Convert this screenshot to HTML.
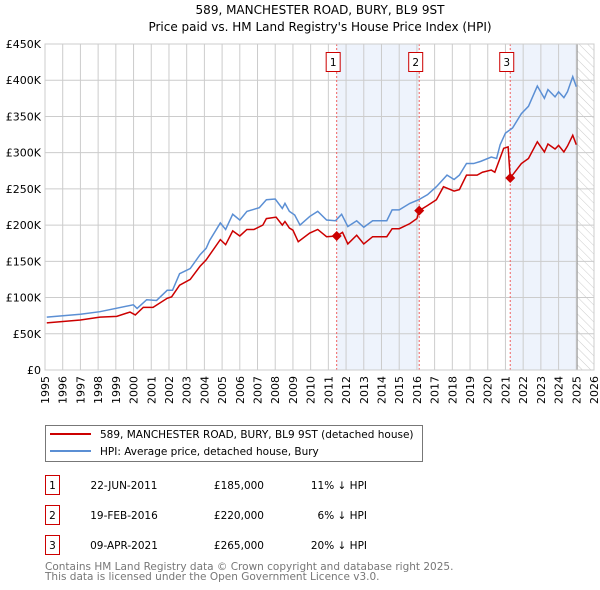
<!DOCTYPE html>
<html><head><meta charset="utf-8"><style>
body{margin:0;background:#fff;}
svg{display:block;font-family:"DejaVu Sans","Liberation Sans",sans-serif;}
</style></head><body>
<svg id="c" width="600" height="590" viewBox="0 0 600 590">
<text x="320" y="14" text-anchor="middle" font-size="12">589, MANCHESTER ROAD, BURY, BL9 9ST</text>
<text x="320" y="31" text-anchor="middle" font-size="12">Price paid vs. HM Land Registry's House Price Index (HPI)</text>
<g id="plot"></g>
<g>
<rect x="45.5" y="425.5" width="377" height="36" fill="#fff" stroke="#777"/>
<line x1="50" y1="434" x2="91" y2="434" stroke="#cc0000" stroke-width="2"/>
<text x="100" y="438" font-size="10.5">589, MANCHESTER ROAD, BURY, BL9 9ST (detached house)</text>
<line x1="50" y1="451" x2="91" y2="451" stroke="#5b8fd4" stroke-width="2"/>
<text x="100" y="455" font-size="10.5">HPI: Average price, detached house, Bury</text>
</g>
<g font-size="10.5">
<rect x="45.5" y="475.5" width="14" height="19" fill="none" stroke="#cc0000"/><text x="52.5" y="489" text-anchor="middle">1</text>
<text x="124" y="489" text-anchor="middle">22-JUN-2011</text><text x="264" y="489" text-anchor="end">£185,000</text><text x="367" y="489" text-anchor="end">11% ↓ HPI</text>
<rect x="45.5" y="505.5" width="14" height="19" fill="none" stroke="#cc0000"/><text x="52.5" y="519" text-anchor="middle">2</text>
<text x="124" y="519" text-anchor="middle">19-FEB-2016</text><text x="264" y="519" text-anchor="end">£220,000</text><text x="367" y="519" text-anchor="end">6% ↓ HPI</text>
<rect x="45.5" y="535.5" width="14" height="19" fill="none" stroke="#cc0000"/><text x="52.5" y="549" text-anchor="middle">3</text>
<text x="124" y="549" text-anchor="middle">09-APR-2021</text><text x="264" y="549" text-anchor="end">£265,000</text><text x="367" y="549" text-anchor="end">20% ↓ HPI</text>
</g>
<text x="45" y="570" font-size="10.5" fill="#777">Contains HM Land Registry data © Crown copyright and database right 2025.</text>
<text x="45" y="580" font-size="10.5" fill="#777">This data is licensed under the Open Government Licence v3.0.</text>
</svg>
<script>
const hpiYears=[1995.1,1997,1998.1,1999.99,2000.2,2000.74,2001.3,2001.9,2002.2,2002.6,2003.2,2003.75,2004.1,2004.3,2004.9,2005.2,2005.6,2006.0,2006.4,2007.1,2007.5,2008.0,2008.4,2008.55,2008.8,2009.1,2009.4,2009.95,2010.4,2010.9,2011.4,2011.75,2012.1,2012.6,2013.0,2013.5,2014.3,2014.6,2015.0,2015.6,2016.1,2016.6,2017.1,2017.7,2018.1,2018.4,2018.8,2019.2,2019.6,2020.2,2020.5,2020.7,2021.0,2021.4,2021.9,2022.3,2022.8,2023.2,2023.4,2023.8,2024.0,2024.3,2024.5,2024.8,2025.0];
const hpiValues=[73,77,80.5,90,85,97,96,110,110,133,140,159,168,179,203,194,215,207,219,224,235,236,223,230,219,214,200,212,219,207,206,215,198,206,197,206,206,221,221,230,235,242,253,269,263,269,285,285,288,294,292,311,327,334,354,364,392,375,387,377,384,376,384,405,391];
const ppYears=[1995.1,1997,1998.1,1999.05,1999.8,2000.1,2000.55,2001.1,2001.9,2002.15,2002.6,2003.2,2003.75,2004.1,2004.9,2005.2,2005.6,2006.0,2006.4,2006.8,2007.3,2007.5,2008.05,2008.4,2008.55,2008.8,2009.0,2009.3,2009.95,2010.4,2010.9,2011.47,2011.8,2012.1,2012.6,2013.0,2013.5,2014.3,2014.6,2015.0,2015.6,2016.0,2016.13,2016.6,2017.1,2017.5,2018.1,2018.4,2018.8,2019.4,2019.7,2020.2,2020.4,2020.9,2021.15,2021.27,2021.9,2022.3,2022.8,2023.2,2023.4,2023.8,2024.0,2024.3,2024.5,2024.8,2025.0];
const ppValues=[65,69,73,74,80,76,86.5,86.5,99,101,117,125,143,152,180,173,192,185,194,194,200,209,211,200,205,196,193,177,189,194,184,185,190,174,186,174,184,184,195,195,202,209,220,227,235,253,247,249,269,269,273,276,273,306,308,265,285,292,315,301,312,305,310,301,309,324,311];
const saleYears=[2011.47,2016.13,2021.27];
const saleValues=[185,220,265];
const saleLabels=["1","2","3"];
const yTicks=[0,50,100,150,200,250,300,350,400,450];
const yTickLabels=["£0","£50K","£100K","£150K","£200K","£250K","£300K","£350K","£400K","£450K"];
const xTicks=[1995,1996,1997,1998,1999,2000,2001,2002,2003,2004,2005,2006,2007,2008,2009,2010,2011,2012,2013,2014,2015,2016,2017,2018,2019,2020,2021,2022,2023,2024,2025,2026];
const dataEnd=2025.05;

const L=45,R=594,T=44,B=370;
const X=y=>L+(y-1995)/31*(R-L);
const Y=v=>B-v/450*(B-T);
const NS="http://www.w3.org/2000/svg";
const g=document.getElementById('plot');
function mk(t,a,p){const e=document.createElementNS(NS,t);for(const k in a)e.setAttribute(k,a[k]);(p||g).appendChild(e);return e;}

// shading
const s1=mk('rect',{x:X(saleYears[0]),y:T,width:X(saleYears[1])-X(saleYears[0]),height:B-T,fill:'#eef3fc'});


const s2=mk('rect',{x:X(saleYears[2]),y:T,width:X(dataEnd)-X(saleYears[2]),height:B-T,fill:'#eef3fc'});


// hatch
const defs=mk('defs',{});
const pat=mk('pattern',{id:'h',width:6,height:6,patternUnits:'userSpaceOnUse',patternTransform:'rotate(-45)'},defs);
mk('line',{x1:0,y1:0,x2:0,y2:6,stroke:'#ccc','stroke-width':1},pat);
const hr=mk('rect',{x:X(dataEnd),y:T,width:R-X(dataEnd),height:B-T,fill:'url(#h)'});


// grid
yTicks.forEach((v,i)=>{
  const l=mk('line',{x1:L,x2:R,y1:Y(v),y2:Y(v),stroke:'#ccc'});
  
  
  const t=mk('text',{x:L-4,y:Y(v)+4,'text-anchor':'end','font-size':11});
  t.textContent=yTickLabels[i];
  
  
});
xTicks.forEach(yr=>{
  const l=mk('line',{x1:X(yr),x2:X(yr),y1:T,y2:B,stroke:'#ccc'});
  
  
  const t=mk('text',{x:0,y:0,'text-anchor':'end','font-size':11,transform:`translate(${X(yr)+4},${B+6}) rotate(-90)`});
  t.textContent=yr;
  
  
});
const el=mk('line',{x1:X(dataEnd),x2:X(dataEnd),y1:T,y2:B,stroke:'#999'});


// sale vlines
saleYears.forEach((yr,i)=>{
  const l=mk('line',{x1:X(yr),x2:X(yr),y1:T,y2:B,stroke:'#f06060','stroke-dasharray':'2,2'});
  
  
  const r=mk('rect',{x:X(yr)-10.5,y:52.5,width:14,height:19,fill:'#fff',stroke:'#cc0000'});
  
  
  const t=mk('text',{x:X(yr)-3.5,y:66,'text-anchor':'middle','font-size':10.5});
  t.textContent=saleLabels[i];
  
  
});
// lines
const hp=mk('polyline',{points:hpiYears.map((y,i)=>X(y)+','+Y(hpiValues[i])).join(' '),fill:'none',stroke:'#5b8fd4','stroke-width':1.5});


const pp=mk('polyline',{points:ppYears.map((y,i)=>X(y)+','+Y(ppValues[i])).join(' '),fill:'none',stroke:'#cc0000','stroke-width':1.5});


saleYears.forEach((yr,i)=>{
  const x=X(yr),y=Y(saleValues[i]);
  const d=mk('polygon',{points:`${x},${y-5} ${x+5},${y} ${x},${y+5} ${x-5},${y}`,fill:'#cc0000'});
  
  
});
const fr=mk('rect',{x:L,y:T,width:R-L,height:B-T,fill:'none',stroke:'#ccc'});


</script>
</body></html>
